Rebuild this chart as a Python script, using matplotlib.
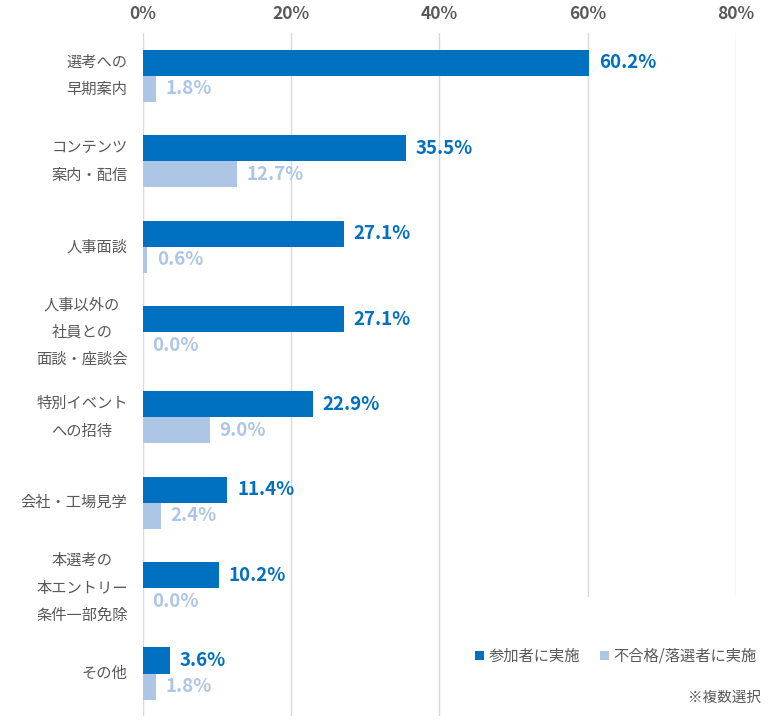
"""
施策別の実施割合（参加者 / 不合格・落選者）を横棒グラフで描く。
"""
import numpy as np
import matplotlib.pyplot as plt
from matplotlib.patches import Patch, Rectangle

plt.rcParams['font.family'] = ['Noto Sans CJK JP', 'DejaVu Sans']

categories = [
    "選考への\n早期案内",
    "コンテンツ\n案内・配信",
    "人事面談",
    "人事以外の\n社員との\n面談・座談会",
    "特別イベント\nへの招待",
    "会社・工場見学",
    "本選考の\n本エントリー\n条件一部免除",
    "その他",
]
participants = [60.2, 35.5, 27.1, 27.1, 22.9, 11.4, 10.2, 3.6]
rejected = [1.8, 12.7, 0.6, 0.0, 9.0, 2.4, 0.0, 1.8]
series_names = ["参加者に実施", "不合格/落選者に実施"]
x_ticks = [0, 20, 40, 60, 80]

dark = "#0070C0"
light = "#AEC6E6"
gray = "#595959"

fig = plt.figure(figsize=(7.8, 7.22), dpi=100)
ax = fig.add_axes([0.1833, 0.008, 0.7603, 0.946])

y = np.arange(len(categories))
h = 0.305
ax.barh(y - h / 2, participants, height=h, color=dark, zorder=2)
ax.barh(y + h / 2, rejected, height=h, color=light, zorder=2)

for yi, v in zip(y, participants):
    ax.text(v + 1.3, yi - h / 2, f"{v:.1f}%", color=dark, fontsize=13.5,
            fontweight='bold', va='center', ha='left')
for yi, v in zip(y, rejected):
    ax.text(v + 1.3, yi + h / 2, f"{v:.1f}%", color=light, fontsize=13.5,
            fontweight='bold', va='center', ha='left')

ax.set_xlim(0, 80)
ax.set_ylim(len(categories) - 0.5, -0.5)
ax.set_xticks(x_ticks)
ax.set_xticklabels([f"{t}%" for t in x_ticks], fontsize=12.5,
                   fontweight='bold', color=gray)
ax.xaxis.tick_top()
ax.tick_params(axis='x', length=0, pad=7)
ax.set_yticks(y)
ax.set_yticklabels(categories, fontsize=11, color=gray,
                   multialignment='center', linespacing=1.8, va='center')
ax.tick_params(axis='y', length=0, pad=11)
ax.grid(axis='x', color="#D9D9D9", linewidth=1, zorder=0)
for s in ax.spines.values():
    s.set_visible(False)

# 凡例の背景（グリッド線を隠す白い領域）
fig.add_artist(Rectangle((0.577, 0.0), 0.423, 0.173, transform=fig.transFigure,
                         facecolor="white", edgecolor="none", zorder=3))

handles = [Patch(facecolor=dark), Patch(facecolor=light)]
leg = fig.legend(handles, series_names, ncol=2, loc='center right',
                 bbox_to_anchor=(0.988, 0.091), frameon=False, fontsize=11,
                 handlelength=0.6, handleheight=0.6, handletextpad=0.3,
                 columnspacing=1.3, labelcolor=gray)
leg.set_zorder(4)

fig.text(0.975, 0.034, "※複数選択", fontsize=10.5, color=gray, ha='right',
         va='center', zorder=4)

fig.savefig("out.png", dpi=100)
plt.close()
